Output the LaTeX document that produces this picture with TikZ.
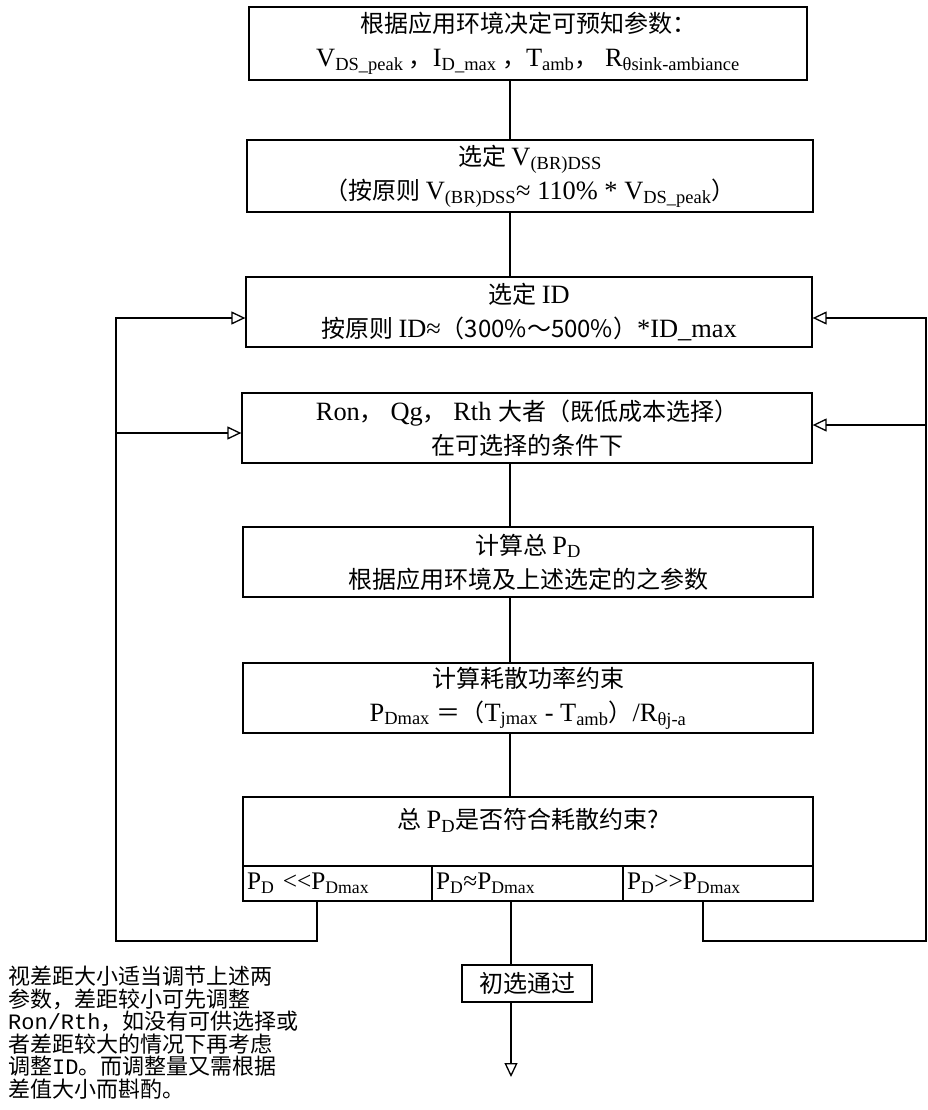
\documentclass[tikz,border=0pt]{standalone}
\usepackage{fontspec}
\setmainfont{Liberation Serif}[Scale=1.1,Ligatures=NoCommon]
\newfontfamily\zhfont{Noto Sans CJK SC}
\newfontfamily\monofont{Liberation Mono}
\usetikzlibrary{arrows.meta,calc}
\newcommand{\zz}[1]{{\zhfont #1}}
\newcommand{\sbs}[1]{\textsubscript{#1}}
\begin{document}
\begin{tikzpicture}[x=1pt,y=-1pt,
  ln/.style={line width=1.2pt},
  arr/.style={ln,-{Triangle[open,length=14pt,width=13pt,line width=1.3pt]}},
  box/.style={draw,line width=1.3pt,inner sep=0pt,align=center,font=\fontsize{24}{34}\selectfont},
  cell/.style={draw,line width=1.3pt,inner sep=4pt,minimum height=35pt,align=left,font=\fontsize{23}{26}\selectfont}]
\useasboundingbox (0,0) rectangle (927,1110);
\fill[white] (0,0) rectangle (927,1110);

\node[box,minimum width=558pt,minimum height=73pt] (b1) at (528,43.5)
  {\zz{根据应用环境决定可预知参数：}\\
   V\sbs{DS\_peak}\zz{ ，}I\sbs{D\_max}\zz{ ，}T\sbs{amb}\zz{，} R\sbs{θsink-ambiance}};
\node[box,minimum width=566pt,minimum height=72pt] (b2) at (530,176)
  {\zz{选定 }V\sbs{(BR)DSS}\\
   \zz{（按原则 }V\sbs{(BR)DSS}≈ 110\% * V\sbs{DS\_peak}\zz{）}};
\node[box,minimum width=566pt,minimum height=70pt] (b3) at (529,312)
  {\zz{选定 }ID\\
   \zz{按原则 }ID≈\zz{（300\%～500\%）}*ID\_max};
\node[box,minimum width=570pt,minimum height=70pt] (b4) at (527,428)
  {Ron\zz{，} Qg\zz{，} Rth \zz{大者（既低成本选择）}\\
   \zz{在可选择的条件下}};
\node[box,minimum width=570pt,minimum height=70pt] (b5) at (528,562)
  {\zz{计算总 }P\sbs{D}\\
   \zz{根据应用环境及上述选定的之参数}};
\node[box,minimum width=570pt,minimum height=70pt] (b6) at (528,698)
  {\zz{计算耗散功率约束}\\
   P\sbs{Dmax} \zz{＝（}T\sbs{jmax} - T\sbs{amb}\zz{）}/R\sbs{θj-a}};
\node[box,minimum width=570pt,minimum height=69pt,text depth=26pt] (b7) at (528,831.5)
  {\zz{总 }P\sbs{D}\zz{是否符合耗散约束?}};
\node[cell,text width=181pt] (c1) at (337.5,883.5) {P\sbs{D} <{}<P\sbs{Dmax}};
\node[cell,text width=183pt] (c2) at (527.5,883.5) {P\sbs{D}≈P\sbs{Dmax}};
\node[cell,text width=182pt] (c3) at (718,883.5) {P\sbs{D}>{}>P\sbs{Dmax}};

\node[box,minimum width=130pt,minimum height=37pt] (pass) at (527,983.5) {\zz{初选通过}};

\node[anchor=north west,align=left,inner sep=0pt,
      font=\zhfont\fontsize{22}{22.5}\selectfont] (note) at (8,966)
  {视差距大小适当调节上述两\\
   参数，差距较小可先调整\\
   {\monofont Ron/Rth}，如没有可供选择或\\
   者差距较大的情况下再考虑\\
   调整{\monofont ID}。而调整量又需根据\\
   差值大小而斟酌。};

% main vertical connectors
\coordinate (cx) at (510,0);
\draw[ln] (b1.south -| cx) -- (b2.north -| cx);
\draw[ln] (b2.south -| cx) -- (b3.north -| cx);
\draw[ln] (b4.south -| cx) -- (b5.north -| cx);
\draw[ln] (b5.south -| cx) -- (b6.north -| cx);
\draw[ln] (b6.south -| cx) -- (b7.north -| cx);

% middle exit
\coordinate (mx) at (511,0);
\coordinate (fin) at (511,1077);
\draw[ln] (c2.south -| mx) -- (pass.north -| mx);
\draw[arr] (pass.south -| mx) -- (fin);

% left feedback loop
\coordinate (l1) at (317,0);
\coordinate (lb) at (116,941);
\coordinate (a3) at (0,318);
\coordinate (a4) at (0,433);
\draw[arr] (c1.south -| l1) -- (l1 |- lb) -- (lb) -- (lb |- a3) -- (b3.west |- a3);
\draw[arr] (lb |- a4) -- (b4.west |- a4);

% right feedback loop
\coordinate (r1) at (703,0);
\coordinate (rb) at (926,941);
\coordinate (a5) at (0,425);
\draw[arr] (c3.south -| r1) -- (r1 |- rb) -- (rb) -- (rb |- a3) -- (b3.east |- a3);
\draw[arr] (rb |- a5) -- (b4.east |- a5);
\end{tikzpicture}
\end{document}
